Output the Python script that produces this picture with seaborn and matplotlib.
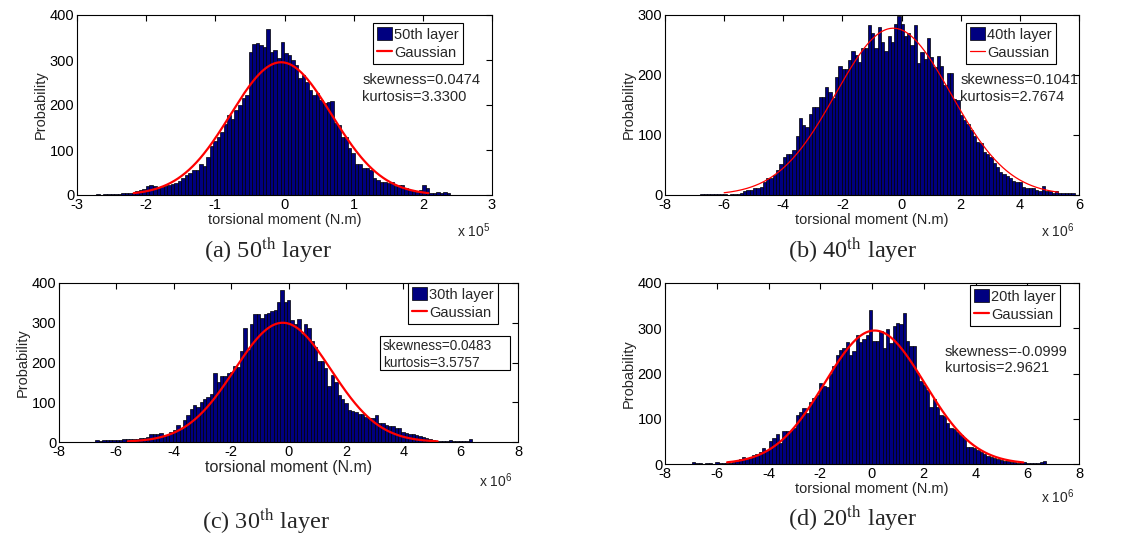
import numpy as np
import pandas as pd
import matplotlib
matplotlib.use("Agg")
import matplotlib.pyplot as plt
import seaborn as sns
from matplotlib.patches import Patch, Rectangle
from matplotlib.lines import Line2D

# ---------------- data ----------------
# (a) 50th layer, x in 1e5 N.m
a_range = (-2.72, 2.40)
a_counts = [2, 1, 2, 2, 3, 2, 3, 4, 4, 5,
            5, 8, 12, 14, 20, 22, 20, 15, 18, 20,
            22, 25, 27, 32, 38, 45, 50, 55, 55, 68,
            65, 85, 110, 120, 128, 140, 158, 178, 170, 190,
            200, 215, 222, 318, 335, 337, 333, 330, 370, 318,
            322, 304, 340, 315, 311, 300, 289, 259, 267, 252,
            233, 222, 226, 211, 204, 207, 210, 159, 156, 130,
            130, 104, 93, 70, 70, 59, 59, 56, 37, 33,
            30, 30, 26, 30, 19, 22, 22, 15, 11, 11,
            7, 11, 22, 15, 5, 5, 7, 5, 7, 4]
a_gauss = dict(mu=-0.05, sigma=0.73, peak=295, lo=-2.18, hi=2.08)

# (b) 40th layer, x in 1e6 N.m
b_range = (-6.80, 5.85)
b_counts = [1, 1, 2, 2, 2, 1, 1, 1, 0, 1, 1, 2,
            3, 7, 8, 9, 12, 12, 13, 22, 28, 28,
            33, 42, 52, 64, 68, 68, 75, 98, 129, 117,
            113, 135, 146, 146, 163, 163, 180, 172, 162, 197,
            215, 210, 210, 225, 240, 233, 222, 245, 245, 283,
            270, 245, 280, 255, 240, 265, 255, 285, 298, 285,
            265, 270, 250, 283, 220, 238, 226, 262, 230, 213,
            232, 215, 183, 203, 203, 160, 158, 133, 125, 118,
            108, 98, 88, 87, 72, 68, 63, 53, 46, 39,
            35, 31, 28, 24, 22, 21, 14, 12, 12, 11,
            8, 7, 15, 6, 6, 4, 6, 4, 4, 4, 4, 3]
b_gauss = dict(mu=-0.28, sigma=1.95, peak=278, lo=-6.0, hi=5.3)

# (c) 30th layer, x in 1e6 N.m
c_range = (-6.73, 6.40)
c_counts = [6, 3, 6, 4, 4, 4, 6, 4, 8, 8,
            8, 7, 8, 11, 11, 13, 19, 20, 20, 22,
            18, 18, 24, 30, 43, 32, 55, 68, 83, 92,
            87, 100, 108, 112, 120, 173, 152, 165, 167, 173,
            177, 190, 188, 230, 288, 232, 297, 323, 322, 313,
            322, 324, 330, 333, 352, 382, 351, 356, 308, 297,
            310, 271, 297, 288, 253, 238, 204, 204, 187, 141,
            169, 150, 118, 108, 97, 81, 78, 75, 70, 70,
            64, 61, 60, 68, 47, 49, 43, 41, 39, 36,
            34, 26, 22, 19, 19, 18, 16, 13, 9, 8,
            5, 3, 3, 3, 2, 4, 2, 3, 2, 3,
            3, 8]
c_gauss = dict(mu=-0.2, sigma=1.68, peak=300, lo=-5.6, hi=5.2)

# (d) 20th layer, x in 1e6 N.m
d_range = (-6.96, 6.74)
d_counts = [4, 2, 2, 1, 2, 2, 1, 5, 2, 2,
            2, 3, 5, 7, 11, 16, 14, 16, 20, 21,
            27, 36, 31, 51, 58, 66, 47, 74, 74, 72,
            80, 108, 116, 123, 112, 138, 145, 153, 179, 173,
            171, 199, 216, 240, 252, 256, 269, 240, 250, 286,
            269, 277, 286, 341, 271, 272, 294, 256, 299, 267,
            304, 311, 309, 334, 271, 260, 260, 201, 184, 175,
            164, 127, 144, 125, 108, 105, 90, 80, 77, 70,
            63, 57, 38, 37, 35, 31, 27, 21, 18, 16,
            14, 11, 9, 7, 7, 5, 4, 3, 4, 4,
            3, 2, 3, 2, 5, 7]
d_gauss = dict(mu=0.1, sigma=1.93, peak=295, lo=-5.6, hi=5.85)

layer_labels = ["50th layer", "40th layer", "30th layer", "20th layer"]
captions = [r"(a) 50$^{\mathrm{th}}$ layer", r"(b) 40$^{\mathrm{th}}$ layer",
            r"(c) 30$^{\mathrm{th}}$ layer", r"(d) 20$^{\mathrm{th}}$ layer"]
stats_text = ["skewness=0.0474\nkurtosis=3.3300", "skewness=0.1041\nkurtosis=2.7674",
              "skewness=0.0483\nkurtosis=3.5757", "skewness=-0.0999\nkurtosis=2.9621"]
exponents = ["5", "6", "6", "6"]
xlims = [(-3, 3), (-8, 6), (-8, 8), (-8, 8)]
xticks = [np.arange(-3, 4, 1), np.arange(-8, 7, 2), np.arange(-8, 9, 2), np.arange(-8, 9, 2)]
ylims = [(0, 400), (0, 300), (0, 400), (0, 400)]
yticks = [[0, 100, 200, 300, 400], [0, 100, 200, 300], [0, 100, 200, 300, 400], [0, 100, 200, 300, 400]]

# ---------------- style ----------------
sns.set_style("white")
plt.rcParams['font.family'] = ['Liberation Sans', 'DejaVu Sans']
plt.rcParams['mathtext.fontset'] = 'custom'
plt.rcParams['mathtext.rm'] = 'Liberation Sans'
plt.rcParams['mathtext.it'] = 'Liberation Sans:italic'
plt.rcParams['axes.unicode_minus'] = False

W, H = 1126, 537
fig = plt.figure(figsize=(W / 100, H / 100), dpi=100)


def px_axes(l, t, r, b):
    return fig.add_axes([l / W, 1 - b / H, (r - l) / W, (b - t) / H])


boxes = [(77, 15, 492, 195), (665, 15, 1079, 195), (59, 283, 518, 442), (665, 283, 1079, 464)]
ranges = [a_range, b_range, c_range, d_range]
counts_all = [a_counts, b_counts, c_counts, d_counts]
gauss_all = [a_gauss, b_gauss, c_gauss, d_gauss]
line_w = [1.6, 0.9, 1.6, 1.6]
leg_anchor = [(0.930, 0.956), (0.944, 0.956), (0.956, 1.0), (0.954, 0.989)]
stat_pos = [(0.687, 0.675), (0.713, 0.675), (0.706, 0.645), (0.676, 0.66)]
offset_pos = [(490, 231), (1074, 231), (512, 481), (1074, 497)]
cap_pos = [(268, 250), (853, 250), (266, 521), (853, 518)]
navy = '#000080'

for k in range(4):
    ax = px_axes(*boxes[k])
    cnt = np.array(counts_all[k], dtype=float)
    lo, hi = ranges[k]
    edges = np.linspace(lo, hi, len(cnt) + 1)
    centers = 0.5 * (edges[:-1] + edges[1:])
    df = pd.DataFrame({"x": centers, "w": cnt})
    sns.histplot(data=df, x="x", weights="w", bins=list(edges), ax=ax, color=navy,
                 edgecolor='black', linewidth=0.5, alpha=1.0, stat='count')
    g = gauss_all[k]
    xg = np.linspace(g['lo'], g['hi'], 400)
    yg = g['peak'] * np.exp(-0.5 * ((xg - g['mu']) / g['sigma']) ** 2)
    gdf = pd.DataFrame({"x": xg, "y": yg})
    sns.lineplot(data=gdf, x="x", y="y", ax=ax, color='red', lw=line_w[k], sort=False)

    ax.set_xlim(*xlims[k])
    ax.set_ylim(*ylims[k])
    ax.set_xticks(xticks[k])
    ax.set_yticks(yticks[k])
    ax.tick_params(direction='in', top=True, right=True, length=4, width=0.8,
                   labelsize=10.5, pad=2, colors='black')
    for s in ax.spines.values():
        s.set_visible(True)
        s.set_color('black')
        s.set_linewidth(0.8)
    xl_size = 11.5 if k == 2 else 10.5
    ax.set_xlabel('torsional moment (N.m)', fontsize=xl_size, labelpad=1)
    ax.set_ylabel('Probability', fontsize=10.5, labelpad=1)

    handles = [Patch(facecolor=navy, edgecolor='black', linewidth=0.5, label=layer_labels[k]),
               Line2D([0], [0], color='red', lw=line_w[k], label='Gaussian')]
    leg = ax.legend(handles=handles, loc='upper right', bbox_to_anchor=leg_anchor[k],
                    borderaxespad=0, frameon=True, fancybox=False, framealpha=1,
                    edgecolor='black', fontsize=10.5, handlelength=1.0, handleheight=1.0,
                    handletextpad=0.15, borderpad=0.3, labelspacing=0.25)
    leg.get_frame().set_linewidth(0.8)

    if k == 2:
        # framed statistics box
        l, t, r, b = boxes[k]
        bx0, bx1 = (380 - l) / (r - l), (510 - l) / (r - l)
        by0, by1 = (b - 370) / (b - t), (b - 336) / (b - t)
        ax.add_patch(Rectangle((bx0, by0), bx1 - bx0, by1 - by0, transform=ax.transAxes,
                               facecolor='white', edgecolor='black', linewidth=0.8, zorder=5))
        ax.text(*stat_pos[k], stats_text[k], transform=ax.transAxes, ha='left', va='top',
                fontsize=9.8, linespacing=1.2, zorder=6)
    else:
        ax.text(*stat_pos[k], stats_text[k], transform=ax.transAxes, ha='left', va='top',
                fontsize=10.5, linespacing=1.25)

    ox, oy = offset_pos[k]
    fig.text(ox / W, 1 - oy / H, r"x 10$^{%s}$" % exponents[k], ha='right', va='center', fontsize=10)
    cx, cy = cap_pos[k]
    fig.text(cx / W, 1 - cy / H, captions[k], ha='center', va='center', fontsize=17.5,
             family=['Liberation Serif', 'DejaVu Serif'], math_fontfamily='stix')

fig.savefig('out.png', dpi=100)
